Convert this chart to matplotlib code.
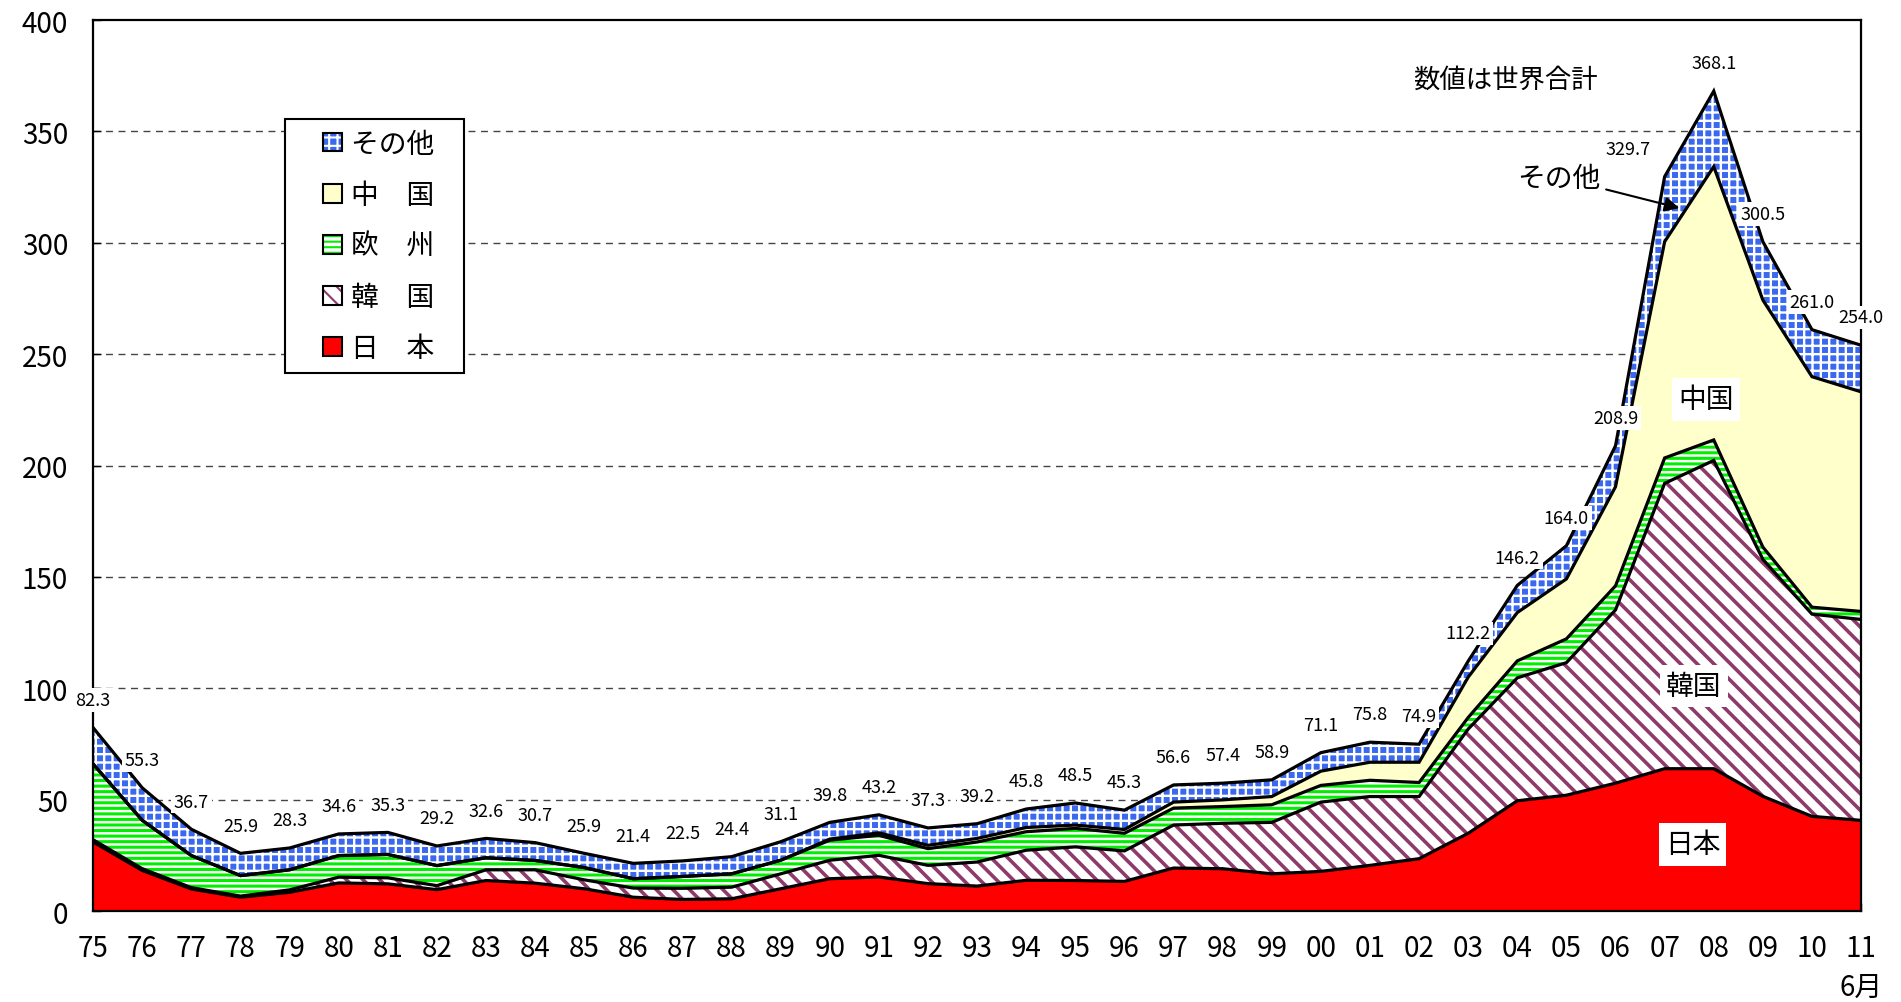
import numpy as np
import matplotlib
matplotlib.use('Agg')
import matplotlib.pyplot as plt
from matplotlib.patches import Patch, Rectangle
from matplotlib.legend_handler import HandlerBase
from matplotlib.transforms import blended_transform_factory

plt.rcParams['font.family'] = ['Noto Sans CJK JP', 'DejaVu Sans']

# year labels (1975 - 2011/6)
years = ['75', '76', '77', '78', '79', '80', '81', '82', '83', '84',
         '85', '86', '87', '88', '89', '90', '91', '92', '93', '94',
         '95', '96', '97', '98', '99', '00', '01', '02', '03', '04',
         '05', '06', '07', '08', '09', '10', '11']

# layers (bottom to top)
japan = [31.0, 18.2, 9.9, 6.2, 8.4, 12.6, 12.2, 9.6, 13.7, 12.5,
         10.0, 6.2, 5.2, 5.5, 10.0, 14.5, 15.3, 12.3, 11.2, 13.8,
         13.7, 13.3, 19.3, 19.0, 16.7, 17.8, 20.5, 23.5, 34.9, 49.5,
         52.0, 57.4, 63.9, 63.9, 51.5, 42.5, 40.7]
korea = [1.0, 0.8, 0.6, 0.5, 1.1, 2.6, 2.7, 1.8, 4.8, 6.0,
         4.0, 4.1, 5.0, 5.2, 6.7, 8.3, 9.7, 8.2, 10.8, 13.5,
         15.1, 13.7, 19.3, 20.4, 23.1, 31.1, 30.9, 27.9, 46.8, 55.2,
         59.5, 77.8, 128.1, 138.4, 106.4, 90.8, 90.2]
europe = [34.0, 21.7, 14.4, 9.2, 9.0, 9.7, 10.5, 9.0, 5.4, 4.2,
          5.5, 4.2, 5.3, 6.0, 6.1, 9.0, 9.0, 7.5, 9.0, 8.3,
          8.3, 7.9, 7.6, 7.5, 7.9, 7.5, 7.3, 6.3, 5.2, 7.6,
          10.7, 10.8, 11.4, 9.2, 5.5, 3.1, 3.6]
china = [0, 0, 0, 0, 0, 0, 0, 0, 0, 0,
         0, 0, 0, 0, 0, 0.5, 1.1, 1.5, 1.6, 1.9,
         1.5, 1.7, 2.7, 3.0, 3.7, 6.4, 8.1, 9.1, 18.1, 21.7,
         26.9, 44.5, 97.1, 122.7, 110.9, 103.5, 98.6]
totals = [82.3, 55.3, 36.7, 25.9, 28.3, 34.6, 35.3, 29.2, 32.6, 30.7,
          25.9, 21.4, 22.5, 24.4, 31.1, 39.8, 43.2, 37.3, 39.2, 45.8,
          48.5, 45.3, 56.6, 57.4, 58.9, 71.1, 75.8, 74.9, 112.2, 146.2,
          164.0, 208.9, 329.7, 368.1, 300.5, 261.0, 254.0]

other = np.array(totals) - (np.array(japan) + np.array(korea)
                            + np.array(europe) + np.array(china))

layer_names = ['日\u3000本', '韓\u3000国', '欧\u3000州', '中\u3000国', 'その他']
layers = [japan, korea, europe, china, other]

# face colour, hatch colour, hatch, hatch width
styles = [
    ('#ff0000', 'none', None, 0),
    ('white', '#8e3b6b', '\\\\', 2.6),
    ('white', '#00ee00', '---', 2.2),
    ('#ffffcc', 'none', None, 0),
    ('#3a68ee', 'white', '++', 1.7),
]


class SquareHandler(HandlerBase):
    # small square at the right end of the handle box, with a black border
    def create_artists(self, legend, orig_handle, xdescent, ydescent,
                       width, height, fontsize, trans):
        s = 0.68 * fontsize
        x0 = width - s - xdescent
        y0 = (height - s) / 2 - ydescent
        r1 = Rectangle((x0, y0), s, s, facecolor=orig_handle.get_facecolor(),
                       edgecolor=orig_handle.get_edgecolor(), hatch=orig_handle.get_hatch(),
                       lw=0, transform=trans)
        if hasattr(r1, 'set_hatch_linewidth') and hasattr(orig_handle, 'get_hatch_linewidth'):
            r1.set_hatch_linewidth(min(orig_handle.get_hatch_linewidth(), 1.5))
        r2 = Rectangle((x0, y0), s, s, facecolor='none', edgecolor='black',
                       lw=1.5, transform=trans)
        return [r1, r2]


fig = plt.figure(figsize=(19.01, 10.03), dpi=100)
ax = fig.add_axes([0.049, 0.0907, 0.930, 0.8883])

x = np.arange(len(years))
bottom = np.zeros(len(years))
handles = []
for vals, name, (face, hcol, hatch, hlw) in zip(layers, layer_names, styles):
    top = bottom + np.array(vals)
    ax.fill_between(x, bottom, top, facecolor=face, edgecolor='none', lw=0, zorder=2)
    with plt.rc_context({'hatch.linewidth': max(hlw, 1.0)}):
        if hatch:
            hp = ax.fill_between(x, bottom, top, facecolor='none', edgecolor=hcol,
                                 hatch=hatch, lw=0, zorder=2.1)
            if hasattr(hp, 'set_hatch_linewidth'):
                hp.set_hatch_linewidth(hlw)
        hh = Patch(facecolor=face, edgecolor=hcol, hatch=hatch, lw=0)
        if hatch and hasattr(hh, 'set_hatch_linewidth'):
            hh.set_hatch_linewidth(hlw)
    handles.append(hh)
    ax.plot(x, top, color='black', lw=2.3, zorder=3, solid_joinstyle='miter')
    bottom = top

ax.set_xlim(0, len(years) - 1)
ax.set_ylim(0, 400)
ax.set_yticks(np.arange(0, 401, 50))
ax.set_xticks(x)
ax.set_xticklabels(years)
ax.tick_params(axis='both', direction='in', length=6, width=1, labelsize=20, colors='black')
ax.tick_params(axis='y', pad=18)
ax.tick_params(axis='x', pad=16)
for s in ax.spines.values():
    s.set_linewidth(1.6)
    s.set_color('black')
    s.set_zorder(5)

for yv in range(50, 400, 50):
    ax.axhline(yv, color='#444444', lw=1, ls=(0, (5, 4)), zorder=1)

# total labels
for i, t in enumerate(totals):
    dx = -26 if years[i] == '07' else 0
    ax.annotate(f'{t:.1f}', (i, t), xytext=(dx, 20), textcoords='offset points',
                ha='center', va='center', fontsize=13, zorder=6,
                bbox=dict(boxstyle='square,pad=0.15', fc='white', ec='none'))

trans = blended_transform_factory(ax.transData, ax.transAxes)
ax.text(36, -0.085, '6月', transform=trans, ha='center', va='center', fontsize=20)

ax.text(28.76, 373.6, '数値は世界合計', ha='center', va='center', fontsize=19, zorder=6)
ax.annotate('その他', xy=(32.3, 315.6), xytext=(29.85, 329.3), ha='center', va='center',
            fontsize=20, zorder=6,
            arrowprops=dict(arrowstyle='-|>', color='black', lw=1.5, mutation_scale=22,
                            shrinkA=2, shrinkB=0))
box = dict(boxstyle='square,pad=0.22', fc='white', ec='none')
ax.text(32.84, 229.7, '中国', ha='center', va='center', fontsize=20, bbox=box, zorder=6)
ax.text(32.6, 101.2, '韓国', ha='center', va='center', fontsize=20, bbox=box, zorder=6)
ax.text(32.57, 29.9, '日本', ha='center', va='center', fontsize=20, bbox=box, zorder=6)

leg = ax.legend(handles[::-1], [n + '\u2002 ' for n in layer_names[::-1]], loc='upper left',
                bbox_to_anchor=(0.1086, 0.889), borderaxespad=0, fontsize=20,
                handler_map={Patch: SquareHandler()},
                fancybox=False, edgecolor='black', framealpha=1,
                handlelength=1.7, handleheight=0.8, handletextpad=0.33,
                labelspacing=0.76, borderpad=0.35)
leg.get_frame().set_linewidth(1.5)
leg.set_zorder(7)

fig.savefig('out.png', dpi=100)
